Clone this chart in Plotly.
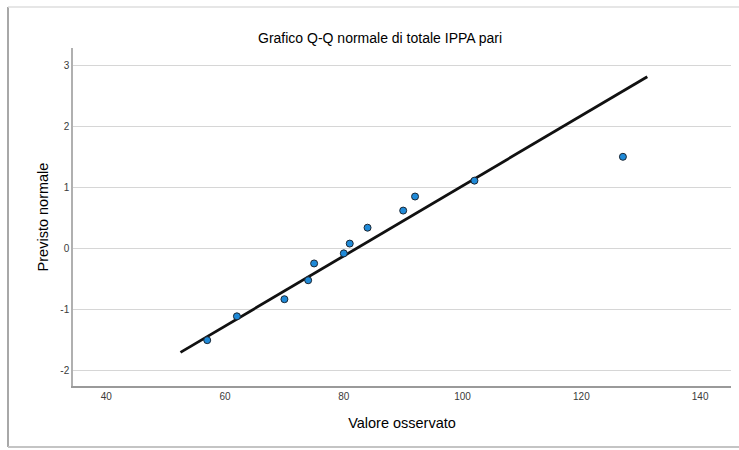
import plotly.graph_objects as go

# Observed values of "totale IPPA pari" and their expected normal scores
observed = [57, 62, 70, 74, 75, 80, 81, 84, 90, 92, 102, 127]
expected = [-1.50, -1.11, -0.83, -0.52, -0.245, -0.08, 0.08, 0.34, 0.62, 0.85, 1.11, 1.50]

# Reference line endpoints (observed value, expected normal)
line_x = [52.5, 131.1]
line_y = [-1.70, 2.81]

x_ticks = [40, 60, 80, 100, 120, 140]
y_ticks = [-2, -1, 0, 1, 2, 3]
y_tick_text = ["-2", "-1", "0", "1", "2", "3"]

FONT = "Arial, Liberation Sans, sans-serif"

fig = go.Figure()
fig.add_trace(go.Scatter(
    x=line_x, y=line_y, mode="lines",
    line=dict(color="#111111", width=2.8),
    hoverinfo="skip", showlegend=False,
))
fig.add_trace(go.Scatter(
    x=observed, y=expected, mode="markers",
    marker=dict(size=7, color="#1f8ad8", line=dict(color="#1c2733", width=1)),
    showlegend=False,
))

W, H = 739, 450
L, R, T, B = 73, 8, 48, 64
pw, ph = W - L - R, H - T - B

def px(x):
    return (x - L) / pw

def py(y):
    return (H - B - y) / ph

fig.update_layout(
    width=W, height=H,
    margin=dict(l=L, r=R, t=T, b=B),
    paper_bgcolor="white", plot_bgcolor="white",
    font=dict(family=FONT, color="#222222"),
    xaxis=dict(
        range=[34.4, 145.2], tickvals=x_ticks, ticks="", showgrid=False,
        zeroline=False, showline=True, linecolor="#9a9a9a", linewidth=1.5,
        tickfont=dict(size=10, color="#3a3a3a"),
        title=dict(text="Valore osservato", font=dict(size=14.5, color="#000000"), standoff=17),
    ),
    yaxis=dict(
        range=[-2.25, 3.28], tickvals=y_ticks, ticktext=y_tick_text, ticks="",
        showgrid=True, gridcolor="#d6d6d6", gridwidth=1, zeroline=False,
        showline=True, linecolor="#b0b0b0", linewidth=1.5,
        tickfont=dict(size=10, color="#3a3a3a"),
        title=dict(text="Previsto normale", font=dict(size=14.5, color="#000000"), standoff=8),
    ),
    annotations=[dict(
        text="Grafico Q-Q normale di totale IPPA pari",
        xref="paper", yref="paper", x=px(380), y=py(38),
        xanchor="center", yanchor="middle", showarrow=False,
        font=dict(size=14, color="#000000", family=FONT),
    )],
    shapes=[
        # window frame around the chart
        dict(type="line", xref="paper", yref="paper", x0=px(8), x1=px(8),
             y0=py(7), y1=py(447), line=dict(color="#a8a8a8", width=2)),
        dict(type="line", xref="paper", yref="paper", x0=px(8), x1=px(745),
             y0=py(7), y1=py(7), line=dict(color="#dedede", width=1.5)),
        dict(type="line", xref="paper", yref="paper", x0=px(8), x1=px(745),
             y0=py(447), y1=py(447), line=dict(color="#c4c4c4", width=2)),
    ],
)

fig.write_html("out.html")
